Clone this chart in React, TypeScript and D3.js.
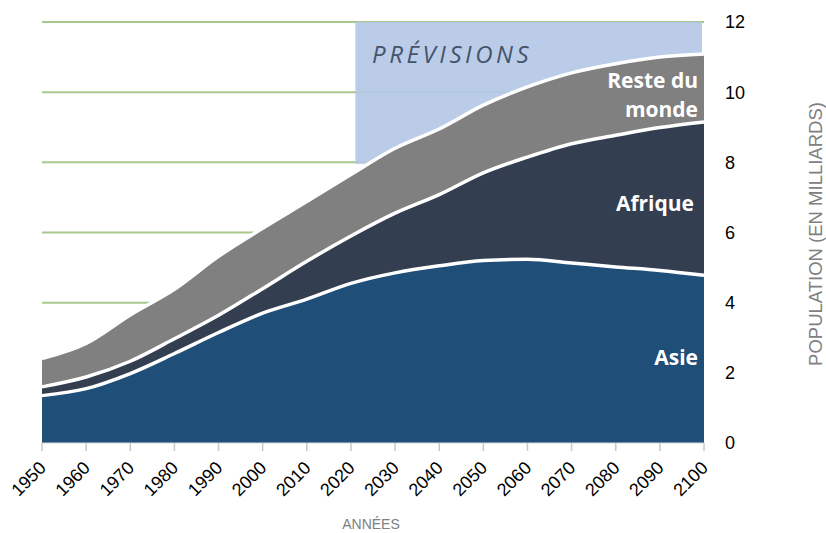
import { useEffect, useRef } from 'react'
import * as d3 from 'd3'

// population par région (milliards)
const years = [1950, 1960, 1970, 1980, 1990, 2000, 2010, 2020, 2030, 2040, 2050, 2060, 2070, 2080, 2090, 2100]
const asie = [1.35, 1.55, 1.98, 2.55, 3.15, 3.7, 4.1, 4.55, 4.85, 5.05, 5.2, 5.24, 5.13, 5.02, 4.92, 4.78]
const afrique = [0.25, 0.33, 0.35, 0.42, 0.49, 0.7, 1.08, 1.35, 1.7, 2.03, 2.5, 2.91, 3.4, 3.75, 4.07, 4.37]
const resteDuMonde = [0.81, 0.96, 1.32, 1.41, 1.68, 1.72, 1.7, 1.75, 1.85, 1.87, 1.93, 2.0, 2.02, 2.04, 2.01, 1.94]

const yTicks = [0, 2, 4, 6, 8, 10, 12]
const xTicks = d3.range(1950, 2101, 10)
const previsionStart = 2021

const keys = ['asie', 'afrique', 'reste']
const colors: Record<string, string> = {
    asie: '#1f4e79',
    afrique: '#333e50',
    reste: '#808080',
}

const App = () => {
    const ref = useRef<SVGSVGElement | null>(null)

    useEffect(() => {
        if (!ref.current) return

        const width = 826
        const height = 533

        const svg = d3.select(ref.current)
        svg.selectAll('*').remove()
        svg.attr('width', width).attr('height', height)

        const x = d3.scaleLinear().domain([1950, 2100]).range([42, 704])
        const y = d3.scaleLinear().domain([0, 12]).range([443, 22])

        const rows = years.map((yr, i) => ({
            year: yr,
            asie: asie[i],
            afrique: afrique[i],
            reste: resteDuMonde[i],
        }))
        const series = d3.stack<any>().keys(keys)(rows)

        // grille horizontale
        svg.append('g')
            .selectAll('line')
            .data(yTicks.filter(d => d > 0))
            .join('line')
            .attr('x1', x(1950))
            .attr('x2', x(2100))
            .attr('y1', d => y(d))
            .attr('y2', d => y(d))
            .attr('stroke', '#a9c78c')
            .attr('stroke-width', 2)

        // zone des prévisions
        svg.append('rect')
            .attr('x', x(previsionStart))
            .attr('y', y(12))
            .attr('width', x(2100) - x(previsionStart) - 2)
            .attr('height', y(8) - y(12) + 1.5)
            .attr('fill', '#b4c7e7')
            .attr('fill-opacity', 0.9)

        svg.append('text')
            .attr('x', 372)
            .attr('y', 63)
            .attr('fill', '#44546a')
            .attr('font-family', '"Open Sans", sans-serif')
            .attr('font-style', 'italic')
            .attr('font-size', 24)
            .attr('letter-spacing', 3.6)
            .text('PRÉVISIONS')

        const area = d3.area<any>()
            .x(d => x(d.data.year))
            .y0(d => y(d[0]))
            .y1(d => y(d[1]))
            .curve(d3.curveMonotoneX)

        const topLine = d3.line<any>()
            .x(d => x(d.data.year))
            .y(d => y(d[1]))
            .curve(d3.curveMonotoneX)

        svg.append('g')
            .selectAll('path')
            .data(series)
            .join('path')
            .attr('d', area)
            .attr('fill', d => colors[d.key])

        svg.append('g')
            .selectAll('path')
            .data(series)
            .join('path')
            .attr('d', topLine)
            .attr('fill', 'none')
            .attr('stroke', '#fff')
            .attr('stroke-width', 3.5)

        // axe X
        const xAxis = svg.append('g').attr('transform', `translate(0,${y(0)})`)
        xAxis.append('line')
            .attr('x1', x(1950))
            .attr('x2', x(2100))
            .attr('stroke', '#d9d9d9')
        xAxis.selectAll('line.tick')
            .data(xTicks)
            .join('line')
            .attr('class', 'tick')
            .attr('x1', d => x(d))
            .attr('x2', d => x(d))
            .attr('y1', 0)
            .attr('y2', 8)
            .attr('stroke', '#c8c8c8')
            .attr('stroke-width', 1.5)
        xAxis.selectAll('text')
            .data(xTicks)
            .join('text')
            .attr('transform', d => `translate(${x(d) + 5},${26}) rotate(-45)`)
            .attr('text-anchor', 'end')
            .attr('font-family', 'Arial, "Liberation Sans", sans-serif')
            .attr('font-size', 18)
            .attr('fill', '#000')
            .text(d => d)

        // axe Y (à droite)
        svg.append('g')
            .selectAll('text')
            .data(yTicks)
            .join('text')
            .attr('x', 725)
            .attr('y', d => y(d))
            .attr('dy', '0.36em')
            .attr('font-family', 'Arial, "Liberation Sans", sans-serif')
            .attr('font-size', 18)
            .attr('fill', '#000')
            .text(d => d)

        svg.append('text')
            .attr('transform', `translate(822,234) rotate(-90)`)
            .attr('text-anchor', 'middle')
            .attr('font-family', 'Arial, "Liberation Sans", sans-serif')
            .attr('font-size', 18.5)
            .attr('fill', '#808080')
            .text('POPULATION (EN MILLIARDS)')

        svg.append('text')
            .attr('x', 371)
            .attr('y', 529)
            .attr('text-anchor', 'middle')
            .attr('font-family', 'Arial, "Liberation Sans", sans-serif')
            .attr('font-size', 14)
            .attr('fill', '#808080')
            .text('ANNÉES')

        // étiquettes des séries
        const labels = [
            { text: 'Reste du', x: 698, y: 88 },
            { text: 'monde', x: 698, y: 117 },
            { text: 'Afrique', x: 694, y: 211 },
            { text: 'Asie', x: 698, y: 365 },
        ]
        svg.append('g')
            .selectAll('text')
            .data(labels)
            .join('text')
            .attr('x', d => d.x)
            .attr('y', d => d.y)
            .attr('text-anchor', 'end')
            .attr('font-family', '"Open Sans", sans-serif')
            .attr('font-weight', 'bold')
            .attr('font-size', 21)
            .attr('fill', '#fff')
            .text(d => d.text)
    }, [])

    return (
        <div>
            <svg ref={ref} style={{ position: 'absolute', left: 0, top: 0 }}></svg>
        </div>
    )
}

export default App
